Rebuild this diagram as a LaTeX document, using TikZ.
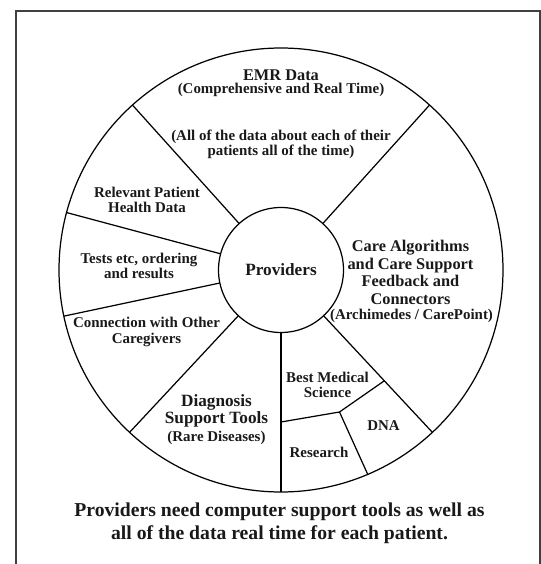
\documentclass[tikz,border=0pt]{standalone}
\usepackage{fontspec}
\setmainfont{Liberation Serif}
\usepackage{amsmath}

\tikzset{
	lbl/.style={font=\fontsize{8.5}{8.6}\selectfont\bfseries, align=center, inner sep=0pt, text=black!90},
	head/.style={font=\fontsize{9.3}{9.9}\selectfont\bfseries, align=center, inner sep=0pt, text=black!90},
	ring/.style={draw, circle, line width=0.7pt, outer sep=0pt},
	spoke/.style={line width=0.7pt},
}

\begin{document}
\begin{tikzpicture}
				\useasboundingbox (-5.62,-5.88) rectangle (5.2,5.4);
				% open frame round the wheel
				\draw[black!75, line width=0.8pt] (-5.3,-5.9) -- (-5.3,5.18) -- (5.18,5.18) -- (5.18,-5.9);
				\node[ring, minimum size=8.88cm] (W)at(0, 0) {};
				\node[ring, minimum size=2.5cm, head, font=\fontsize{9.8}{10}\selectfont\bfseries] (P)at(0, 0) {Providers};
				\foreach \a in {48,132,165,192,227,270,313}
					\draw[spoke] (P.\a) -- (W.\a);
				% split of the lower right sector
				\coordinate (J)at(1.17, -2.84);
				\coordinate (S1)at(270:3.04);
				\coordinate (S2)at(313:3.03);
				\draw[spoke] (S1) -- (J) -- (S2);
				\draw[spoke] (J) -- (W.293);
				% sector texts
				\node[head] (E)at(0, 3.9) {EMR Data};
				\node[lbl] (E1)at(0, 3.6) {(Comprehensive and Real Time)};
				\node[lbl] (E2)at(0, 2.52) {(All of the data about each of their\\patients all of the time)};
				\node[lbl] (R)at(-2.68, 1.4) {Relevant Patient\\Health Data};
				\node[lbl] (T)at(-2.84, 0.09) {Tests etc, ordering\\and results};
				\node[lbl] (C)at(-2.69, -1.24) {Connection with Other\\Caregivers};
				\node[head, font=\fontsize{9.8}{9.6}\selectfont\bfseries] (D)at(-1.29, -2.82) {Diagnosis\\Support Tools};
				\node[lbl] (D1)at(-1.29, -3.35) {(Rare Diseases)};
				\node[head] (A)at(2.59, -0.05) {Care Algorithms\\and Care Support\\Feedback and\\Connectors};
				\node[lbl] (A1)at(2.61, -0.92) {(Archimedes / CarePoint)};
				\node[lbl] (M)at(0.93, -2.3) {Best Medical\\Science};
				\node[lbl] (N)at(2.05, -3.11) {DNA};
				\node[lbl] (X)at(0.76, -3.64) {Research};
				% caption under the wheel
				\node[head, font=\fontsize{11.2}{13}\selectfont\bfseries] (L)at(-0.03, -5.06) {Providers need computer support tools as well as\\all of the data real time for each patient.};
			\end{tikzpicture}
\end{document}
